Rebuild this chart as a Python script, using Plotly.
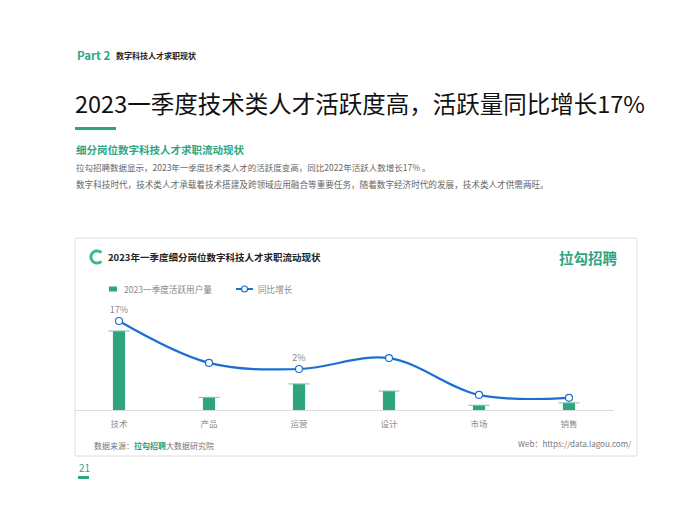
import math
import plotly.graph_objects as go

# ---------------- data ----------------
categories = ["技术", "产品", "运营", "设计", "市场", "销售"]
active_users = [100, 16, 33, 24, 6, 9]          # relative active-user volume (bars)
yoy_growth = [17, 3.9, 2, 5.4, -6.1, -7]         # year-on-year growth, %
growth_labels = ["17%", "", "2%", "", "", ""]
bar_name = "2023一季度活跃用户量"
line_name = "同比增长"

GREEN = "#2fa57f"
BLUE = "#1b6fd2"
GRAY = "#8a8a8a"
FONT = "Noto Sans CJK SC"

# the page body has an 8px margin, so the figure is drawn 8px in from the corner
OFF = 8
W, H = 700 - OFF, 525 - OFF


def px(x):
    return (x - OFF) / W


def py(y):
    return 1 - (y - OFF) / H


fig = go.Figure()

fig.add_trace(go.Bar(
    x=categories, y=active_users, name=bar_name,
    marker=dict(color=GREEN, line=dict(width=0)),
    width=0.135, yaxis="y", showlegend=False,
))
# thin caps on bar tops
fig.add_trace(go.Scatter(
    x=categories, y=active_users, mode="markers", yaxis="y",
    marker=dict(symbol="line-ew", size=15, line=dict(color="#7cbfa6", width=1)),
    hoverinfo="skip", showlegend=False,
))
fig.add_trace(go.Scatter(
    x=categories, y=yoy_growth, name=line_name, yaxis="y2",
    mode="lines+markers+text", text=growth_labels, textposition="top center",
    textfont=dict(size=9, color=GRAY, family=FONT),
    line=dict(color=BLUE, width=2.2, shape="spline", smoothing=1.0),
    marker=dict(size=7, color="white", line=dict(color=BLUE, width=1.2)),
    cliponaxis=False, showlegend=False,
))

y_bottom, y_top = 410, 300
bar_px_per_unit = 79 / 100
ymax = (y_bottom - y_top) / bar_px_per_unit
zero2 = 375.4
pp = 3.2
y2min = (zero2 - y_bottom) / pp
y2max = (zero2 - y_top) / pp

shapes = []
annotations = []

# chart card border
shapes.append(dict(type="rect", xref="paper", yref="paper",
                   x0=px(75), x1=px(637), y0=py(456), y1=py(238),
                   line=dict(color="#dedede", width=1), fillcolor="rgba(0,0,0,0)", layer="below"))
# title underline bar
shapes.append(dict(type="rect", xref="paper", yref="paper",
                   x0=px(75), x1=px(116), y0=py(130), y1=py(127),
                   line=dict(width=0), fillcolor=GREEN))
# page number underline
shapes.append(dict(type="rect", xref="paper", yref="paper",
                   x0=px(78), x1=px(89), y0=py(479), y1=py(476),
                   line=dict(width=0), fillcolor=GREEN))

# logo ring (C shape)
cx, cy, ro, ri = 97, 257, 7.5, 4.6
pts_outer = []
pts_inner = []
for i in range(0, 41):
    a = math.radians(45 + i * 270 / 40)
    pts_outer.append((cx + ro * math.cos(a), cy - ro * math.sin(a)))
    pts_inner.append((cx + ri * math.cos(a), cy - ri * math.sin(a)))
poly = pts_outer + pts_inner[::-1]
path = "M " + " L ".join(f"{px(x):.5f},{py(y):.5f}" for x, y in poly) + " Z"
shapes.append(dict(type="path", xref="paper", yref="paper", path=path,
                   fillcolor="#3cb98a", line=dict(width=0)))

# legend (drawn)
shapes.append(dict(type="rect", xref="paper", yref="paper",
                   x0=px(109), x1=px(117), y0=py(291.5), y1=py(286.5),
                   line=dict(width=0), fillcolor=GREEN))
shapes.append(dict(type="line", xref="paper", yref="paper",
                   x0=px(236), x1=px(253), y0=py(289), y1=py(289),
                   line=dict(color=BLUE, width=2)))
shapes.append(dict(type="circle", xref="paper", yref="paper",
                   x0=px(241.5), x1=px(247.5), y0=py(292), y1=py(286),
                   fillcolor="white", line=dict(color=BLUE, width=1.2)))


def txt(x, y, s, size, color, bold=False, anchor="left"):
    if bold:
        s = f"<b>{s}</b>"
    annotations.append(dict(x=px(x), y=py(y), xref="paper", yref="paper", text=s,
                            showarrow=False, xanchor=anchor, yanchor="middle",
                            font=dict(size=size, color=color, family=FONT)))


txt(75, 55, "Part 2", 11.5, GREEN, bold=True)
txt(114, 55, "数字科技人才求职现状", 8, "#222222", bold=True)
txt(73, 103, "2023一季度技术类人才活跃度高，活跃量同比增长17%", 23.5, "#111111")
txt(74, 149, "细分岗位数字科技人才求职流动现状", 10.5, GREEN, bold=True)
txt(74, 167, "拉勾招聘数据显示，2023年一季度技术类人才的活跃度变高，同比2022年活跃人数增长17% 。", 8.5, "#666666")
txt(74, 184, "数字科技时代，技术类人才承载着技术搭建及跨领域应用融合等重要任务，随着数字经济时代的发展，技术类人才供需两旺。", 8.6, "#666666")
txt(106, 257, "2023年一季度细分岗位数字科技人才求职流动现状", 9.5, "#222222", bold=True)
txt(620, 257, "拉勾招聘", 14.5, GREEN, bold=True, anchor="right")
txt(122, 289, bar_name, 8.6, GRAY)
txt(256, 289, line_name, 8.6, GRAY)
txt(92, 445, f"数据来源：<b><span style='color:{GREEN}'>拉勾招聘</span></b>大数据研究院", 8, "#777777")
txt(633, 443, "Web：https://data.lagou.com/", 8, "#777777", anchor="right")
txt(77, 467, "21", 10, GREEN)

fig.update_layout(
    width=W, height=H,
    margin=dict(l=0, r=0, t=0, b=0),
    paper_bgcolor="white", plot_bgcolor="white",
    font=dict(family=FONT),
    showlegend=False,
    xaxis=dict(domain=[px(74), px(614)], range=[-0.5, 5.5], type="category",
               showline=True, linecolor="#dcdcdc", linewidth=1, showgrid=False,
               ticks="", ticklabelstandoff=6,
               tickfont=dict(size=8.5, color=GRAY, family=FONT),
               fixedrange=True),
    yaxis=dict(domain=[py(y_bottom), py(y_top)], range=[0, ymax], visible=False,
               showgrid=False, zeroline=False),
    yaxis2=dict(domain=[py(y_bottom), py(y_top)], range=[y2min, y2max], overlaying="y",
                visible=False, showgrid=False, zeroline=False),
    shapes=shapes,
    annotations=annotations,
    bargap=0.5,
)

fig.write_html("out.html")
